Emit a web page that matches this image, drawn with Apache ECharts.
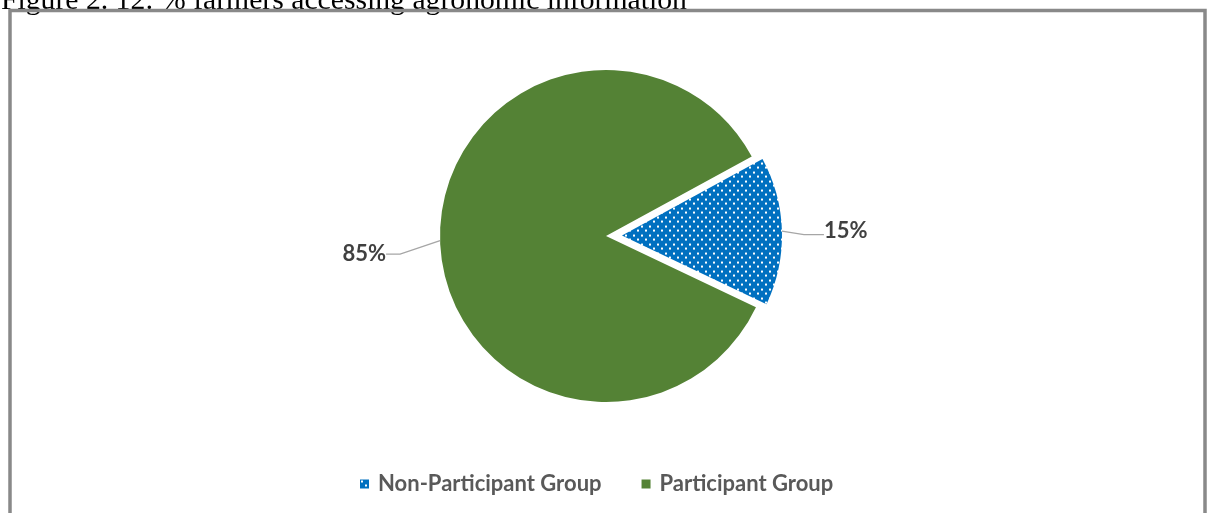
<!DOCTYPE html>
<html>
<head>
<meta charset="utf-8">
<script src="https://cdn.jsdelivr.net/npm/echarts@6/dist/echarts.min.js"></script>
<style>
  html, body { margin: 0; padding: 0; background: #fff; }
  #chart { width: 1208px; height: 513px; }
</style>
</head>
<body>
<div id="chart"></div>
<script>
// Share of farmers accessing agronomic information, by group (%)
const categories = ['Non-Participant Group', 'Participant Group'];
const shares = [15, 85];
const figureTitle = 'Figure 2. 12: % farmers accessing agronomic information';

// Blue fill with a staggered white dot pattern
function dottedFill(base) {
  const c = document.createElement('canvas');
  c.width = 8; c.height = 9;
  const ctx = c.getContext('2d');
  ctx.fillStyle = base;
  ctx.fillRect(0, 0, 8, 9);
  ctx.fillStyle = '#ffffff';
  ctx.fillRect(1, 1, 2, 2);
  ctx.fillRect(5, 5, 2, 2);
  return { image: c, repeat: 'repeat' };
}

const sliceColors = [dottedFill('#0070C0'), '#548235'];
const labelFont = 'Lato, "Open Sans", sans-serif';

const chart = echarts.init(document.getElementById('chart'), null, { renderer: 'canvas' });

// The exploded slice is drawn slightly smaller than the main body,
// so each slice gets its own pie layer with the same data.
const pieCenter = [606, 236];
const startAngle = 28.6;
const labelShift = [[0, 4], [-18, 13]];   // per-slice label nudge [dx, dy]
const leaderTail = [20, 14];              // per-slice horizontal leader length

function pieLayer(showIndex, radius) {
  return {
    type: 'pie',
    center: pieCenter,
    radius: radius,
    startAngle: startAngle,
    clockwise: true,
    selectedMode: 'single',
    selectedOffset: 16,
    emphasis: { disabled: true },
    silent: true,
    label: {
      position: 'outside',
      formatter: '{c}%',
      fontFamily: labelFont,
      fontWeight: 'bold',
      fontSize: 22,
      color: '#404040',
      distanceToLabelLine: 4
    },
    labelLine: {
      length: 18,
      length2: 14,
      lineStyle: { color: '#a6a6a6', width: 1.4 }
    },
    labelLayout: function (p) {
      const s = labelShift[p.dataIndex];
      const r = p.labelRect;
      const x = p.align === 'right' ? r.x + r.width : (p.align === 'center' ? r.x + r.width / 2 : r.x);
      const y = p.verticalAlign === 'top' ? r.y : (p.verticalAlign === 'bottom' ? r.y + r.height : r.y + r.height / 2);
      return { x: x + s[0], y: y + s[1] };
    },
    data: categories.map((name, i) => ({
      name,
      value: shares[i],
      selected: i === 0,
      itemStyle: { color: i === showIndex ? sliceColors[i] : 'rgba(0,0,0,0)' },
      label: { show: i === showIndex },
      labelLine: { show: i === showIndex, length2: leaderTail[i] }
    }))
  };
}

chart.setOption({
  backgroundColor: '#ffffff',
  animation: false,
  graphic: [
    {
      type: 'text',
      left: 1,
      top: -14,
      z: 1,
      style: {
        text: figureTitle,
        font: '29.7px "Liberation Serif", "Times New Roman", serif',
        fill: '#000000'
      }
    },
    {
      type: 'rect',
      z: 2,
      shape: { x: 10, y: 10.5, width: 1195, height: 530 },
      style: { fill: 'none', stroke: '#898989', lineWidth: 3.5 }
    }
  ],
  legend: {
    bottom: 13,
    left: 355,
    itemWidth: 9,
    itemHeight: 9,
    itemGap: 40,
    icon: 'rect',
    selectedMode: false,
    textStyle: {
      fontFamily: labelFont,
      fontWeight: 'bold',
      fontSize: 22,
      color: '#595959',
      padding: [0, 0, 0, 4]
    },
    data: categories.map((name, i) => ({ name, itemStyle: { color: sliceColors[i] } }))
  },
  series: [pieLayer(1, 166), pieLayer(0, 160)]
});
</script>
</body>
</html>
